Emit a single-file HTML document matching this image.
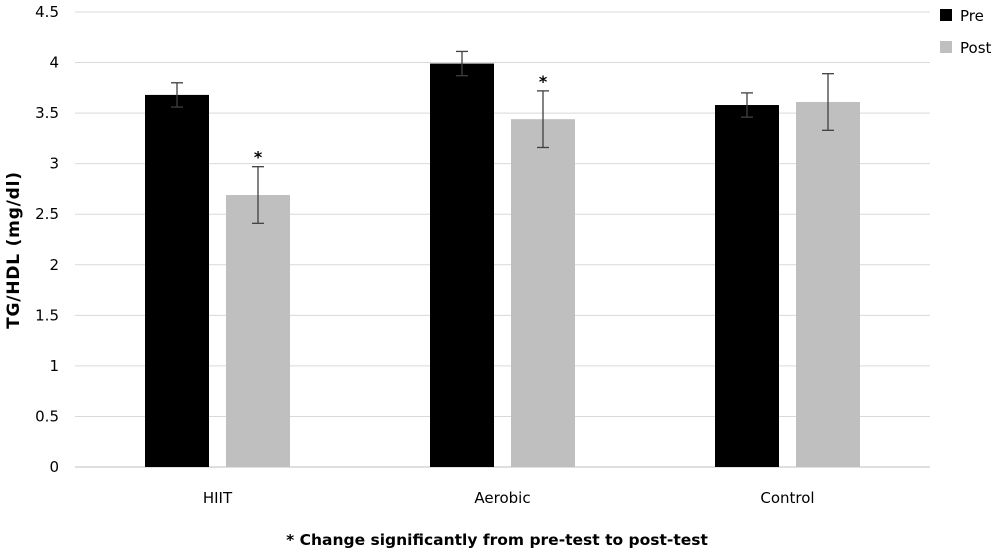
<!DOCTYPE html>
<html><head><meta charset="utf-8"><style>
body{margin:0;background:#fff;}
svg{display:block;font-family:"DejaVu Sans","Liberation Sans",sans-serif;}
</style></head><body>
<svg id="chart" width="1000" height="554" viewBox="0 0 1000 554" xmlns="http://www.w3.org/2000/svg">
<g id="grid"></g>
<g id="yticks"></g>
<g id="bars"></g>
<g id="xlabels"></g>
<text transform="translate(19,250) rotate(-90)" text-anchor="middle" font-size="17" font-weight="bold" letter-spacing="0.8" font-family="DejaVu Sans, sans-serif">TG/HDL (mg/dl)</text>
<text x="497" y="545" text-anchor="middle" font-size="15.5" font-weight="bold" font-family="DejaVu Sans, sans-serif">* Change significantly from pre-test to post-test</text>
<g>
<rect x="940" y="9" width="12" height="12" fill="#000"/>
<text x="960" y="21" font-size="15">Pre</text>
<rect x="940" y="41" width="12" height="12" fill="#bfbfbf"/>
<text x="960" y="53" font-size="15">Post</text>
</g>
</svg>
<script>
const categories=["HIIT","Aerobic","Control"];
const preValues=[3.68,3.99,3.58];
const postValues=[2.69,3.44,3.61];
const preErr=[0.12,0.12,0.12];
const postErr=[0.28,0.28,0.28];
const significant=[true,true,false];
const yTicks=["0","0.5","1","1.5","2","2.5","3","3.5","4","4.5"];
const NS="http://www.w3.org/2000/svg";
const x0=75,x1=930,yBase=467,yTop=12,yMax=4.5;
const y=v=>yBase-(v/yMax)*(yBase-yTop);
const catW=(x1-x0)/categories.length;
function mk(tag,attrs,parent){const e=document.createElementNS(NS,tag);for(const k in attrs)e.setAttribute(k,attrs[k]);parent.appendChild(e);return e;}
const grid=document.getElementById('grid'),yt=document.getElementById('yticks'),bars=document.getElementById('bars'),xl=document.getElementById('xlabels');
yTicks.forEach(t=>{const v=parseFloat(t);
const l=mk('line',{x1:x0,x2:x1,y1:y(v),y2:y(v),stroke:v===0?'#bfbfbf':'#d9d9d9','stroke-width':1},grid);

const tx=mk('text',{x:x0-16,y:y(v)+5,'text-anchor':'end','font-size':15},yt);tx.textContent=t;
});
function errBar(cx,v,e){const g=mk('g',{stroke:'#404040','stroke-width':1.3},bars);

mk('line',{x1:cx,x2:cx,y1:y(v+e),y2:y(v-e)},g);mk('line',{x1:cx-6,x2:cx+6,y1:y(v+e),y2:y(v+e)},g);mk('line',{x1:cx-6,x2:cx+6,y1:y(v-e),y2:y(v-e)},g);}
categories.forEach((c,i)=>{const cc=x0+catW*(i+0.5);const bw=64,gap=17;
const px=cc-gap/2-bw,qx=cc+gap/2;
const b1=mk('rect',{x:px,y:y(preValues[i]),width:bw,height:yBase-y(preValues[i]),fill:'#000'},bars);

const b2=mk('rect',{x:qx,y:y(postValues[i]),width:bw,height:yBase-y(postValues[i]),fill:'#bfbfbf'},bars);

errBar(px+bw/2,preValues[i],preErr[i]);errBar(qx+bw/2,postValues[i],postErr[i]);
if(significant[i]){const s=mk('text',{x:qx+bw/2,y:y(postValues[i]+postErr[i])-4,'text-anchor':'middle','font-size':16,'font-weight':'bold'},bars);s.textContent='*';
}
const t=mk('text',{x:cc,y:503,'text-anchor':'middle','font-size':15},xl);t.textContent=c;
});
</script>
</body></html>
